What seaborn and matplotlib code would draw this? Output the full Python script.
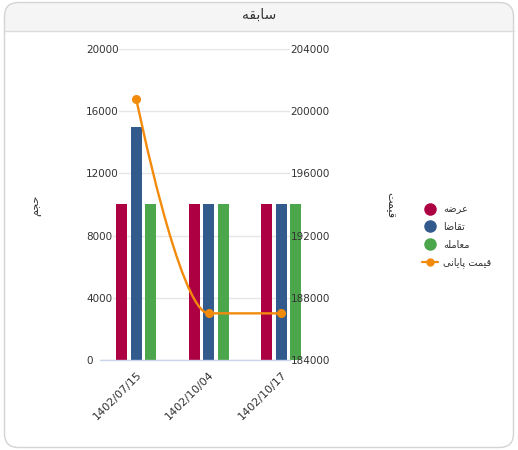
import matplotlib

matplotlib.use("Agg")
import matplotlib.pyplot as plt
import numpy as np
import pandas as pd
import seaborn as sns
from matplotlib.lines import Line2D
from matplotlib.patches import FancyBboxPatch, PathPatch, Rectangle
from matplotlib.path import Path

# data
dates = ["1402/07/15", "1402/10/04", "1402/10/17"]
supply = [10000, 10000, 10000]
demand = [15000, 10000, 10000]
trades = [10000, 10000, 10000]
close_price = [200800, 187000, 187000]

series_names = ["عرضه", "تقاضا", "معامله"]
line_name = "قیمت پایانی"
chart_title = "سابقه"
left_title = "حجم"
right_title = "قیمت"

volume_ticks = [0, 4000, 8000, 12000, 16000, 20000]
price_ticks = [184000, 188000, 192000, 196000, 200000, 204000]

bar_colors = ["#ad0042", "#325a8d", "#4ca64c"]
line_color = "#f28a0c"
text_color = "#333333"

# --- minimal persian shaping (matplotlib has no RTL / joining support) ---
FORMS = {
    "ا": ("\ufe8d", "\ufe8e", None, None),
    "ب": ("\ufe8f", "\ufe90", "\ufe91", "\ufe92"),
    "پ": ("\ufb56", "\ufb57", "\ufb58", "\ufb59"),
    "ت": ("\ufe95", "\ufe96", "\ufe97", "\ufe98"),
    "ج": ("\ufe9d", "\ufe9e", "\ufe9f", "\ufea0"),
    "ح": ("\ufea1", "\ufea2", "\ufea3", "\ufea4"),
    "ر": ("\ufead", "\ufeae", None, None),
    "س": ("\ufeb1", "\ufeb2", "\ufeb3", "\ufeb4"),
    "ض": ("\ufebd", "\ufebe", "\ufebf", "\ufec0"),
    "ع": ("\ufec9", "\ufeca", "\ufecb", "\ufecc"),
    "ق": ("\ufed5", "\ufed6", "\ufed7", "\ufed8"),
    "ل": ("\ufedd", "\ufede", "\ufedf", "\ufee0"),
    "م": ("\ufee1", "\ufee2", "\ufee3", "\ufee4"),
    "ن": ("\ufee5", "\ufee6", "\ufee7", "\ufee8"),
    "ه": ("\ufee9", "\ufeea", "\ufeeb", "\ufeec"),
    "ی": ("\ufbfc", "\ufbfd", "\ufbfe", "\ufbff"),
}
RIGHT_ONLY = set("ادذرزژو")


def fa(text):
    out = []
    for i, ch in enumerate(text):
        if ch not in FORMS:
            out.append(ch)
            continue
        prev = text[i - 1] if i > 0 else None
        nxt = text[i + 1] if i + 1 < len(text) else None
        join_prev = prev in FORMS and prev not in RIGHT_ONLY
        join_next = nxt in FORMS and ch not in RIGHT_ONLY
        iso, fin, ini, med = FORMS[ch]
        if join_prev and join_next:
            out.append(med)
        elif join_prev:
            out.append(fin)
        elif join_next:
            out.append(ini)
        else:
            out.append(iso)
    return "".join(reversed(out))


def spline_path(xs, ys, smoothing=1.5):
    # same control-point rule as highcharts' spline series
    n = len(xs)
    denom = smoothing + 1
    left_c = [None] * n
    right_c = [None] * n
    for i in range(1, n - 1):
        x, y = xs[i], ys[i]
        lx, ly = xs[i - 1], ys[i - 1]
        nx, ny = xs[i + 1], ys[i + 1]
        lcx, lcy = (smoothing * x + lx) / denom, (smoothing * y + ly) / denom
        rcx, rcy = (smoothing * x + nx) / denom, (smoothing * y + ny) / denom
        corr = (rcy - lcy) * (rcx - x) / (rcx - lcx) + y - rcy
        lcy += corr
        rcy += corr
        if lcy > ly and lcy > y:
            lcy = max(ly, y)
            rcy = 2 * y - lcy
        elif lcy < ly and lcy < y:
            lcy = min(ly, y)
            rcy = 2 * y - lcy
        if rcy > ny and rcy > y:
            rcy = max(ny, y)
            lcy = 2 * y - rcy
        elif rcy < ny and rcy < y:
            rcy = min(ny, y)
            lcy = 2 * y - rcy
        left_c[i] = (lcx, lcy)
        right_c[i] = (rcx, rcy)
    verts = [(xs[0], ys[0])]
    codes = [Path.MOVETO]
    for i in range(1, n):
        verts.append(right_c[i - 1] or (xs[i - 1], ys[i - 1]))
        verts.append(left_c[i] or (xs[i], ys[i]))
        verts.append((xs[i], ys[i]))
        codes += [Path.CURVE4] * 3
    return Path(verts, codes)


sns.set_style("white")
plt.rcParams["font.family"] = ["DejaVu Sans"]

W, H = 518, 450
fig = plt.figure(figsize=(W / 100, H / 100), dpi=100)

# card background with grey header
bg = fig.add_axes([0, 0, 1, 1], zorder=-1)
bg.set_xlim(0, W)
bg.set_ylim(H, 0)
bg.axis("off")
card_kw = dict(boxstyle="round,pad=0,rounding_size=14")
header = FancyBboxPatch((4.5, 2.5), 509, 445, fc="#f5f5f5", ec="none", **card_kw)
bg.add_patch(header)
header.set_clip_path(Rectangle((0, 0), W, 31, transform=bg.transData))
bg.plot([4.5, 513.5], [31, 31], color="#dcdcdc", lw=1)
bg.add_patch(FancyBboxPatch((4.5, 2.5), 509, 445, fc="none", ec="#d4d4d4", lw=1, **card_kw))
bg.text(259, 15, fa(chart_title), ha="center", va="center", fontsize=10, color=text_color)

# main plot
ax = fig.add_axes([100 / W, 90 / H, 190 / W, 311 / H])
ax.set_facecolor("none")

df = pd.DataFrame(
    {
        "date": dates * 3,
        "kind": [k for k in series_names for _ in dates],
        "value": supply + demand + trades,
    }
)
sns.barplot(
    data=df,
    x="date",
    y="value",
    hue="kind",
    hue_order=series_names,
    palette=bar_colors,
    width=0.6,
    gap=0.26,
    saturation=1,
    errorbar=None,
    legend=False,
    ax=ax,
)
for p in ax.patches:
    p.set_clip_on(False)
    p.set_linewidth(0)

ax.set_xlim(-0.5, -0.5 + 190 / 72.5)
ax.set_ylim(0, 20000)
ax.set_yticks(
    volume_ticks,
    labels=[str(v) for v in volume_ticks],
    ha="left",
    bbox=dict(facecolor="white", edgecolor="none", pad=0.3),
)
ax.tick_params(axis="y", length=0, pad=10, labelsize=7.5, labelcolor=text_color)
ax.set_xticks(range(len(dates)), labels=dates, rotation=45, ha="right", rotation_mode="anchor")
ax.tick_params(axis="x", length=0, pad=7, labelsize=8, labelcolor=text_color)
ax.set_xlabel("")
ax.set_ylabel("")
ax.grid(axis="y", color="#e6e6e6", lw=1)
ax.set_axisbelow(True)
for s in ["left", "right", "top"]:
    ax.spines[s].set_visible(False)
ax.spines["bottom"].set_color("#ccd6eb")
ax.spines["bottom"].set_linewidth(1)

# price line on the right axis
ax2 = ax.twinx()
ax2.set_ylim(184000, 204000)
ax2.set_yticks(price_ticks, labels=[str(v) for v in price_ticks])
ax2.tick_params(axis="y", length=0, pad=0.5, labelsize=7.5, labelcolor=text_color)
ax2.grid(False)
for s in ax2.spines.values():
    s.set_visible(False)

xs = np.arange(len(dates))
ax2.add_patch(
    PathPatch(spline_path(list(xs), close_price), fc="none", ec=line_color, lw=1.7, capstyle="round")
)
ax2.plot(xs, close_price, "o", color=line_color, ms=5.5, ls="none")

fig.text(37 / W, 1 - 205 / H, fa(left_title), rotation=90, ha="center", va="center",
         fontsize=8, color=text_color)
fig.text(390 / W, 1 - 205 / H, fa(right_title), rotation=270, ha="center", va="center",
         fontsize=8, color=text_color)

handles = [Line2D([], [], ls="none", marker="o", ms=8, color=c) for c in bar_colors]
handles.append(Line2D([], [], color=line_color, lw=1.6, marker="o", ms=5))
fig.legend(
    handles,
    [fa(n) for n in series_names + [line_name]],
    loc="upper left",
    bbox_to_anchor=(421.5 / W, 1 - 204 / H),
    frameon=False,
    fontsize=7,
    handlelength=1.7,
    handletextpad=0.5,
    labelspacing=0.8,
    borderpad=0,
    borderaxespad=0,
    labelcolor=text_color,
)

fig.savefig("out.png", dpi=100)
